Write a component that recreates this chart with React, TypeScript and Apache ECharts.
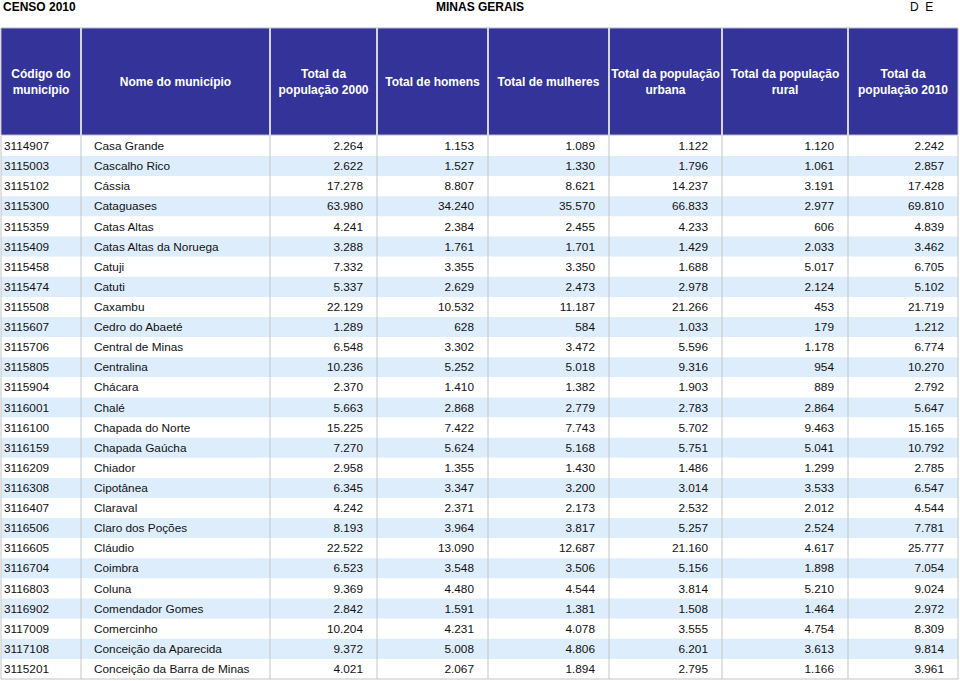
import React, { useEffect, useRef } from "react";
import * as echarts from "echarts";

const codes = ["3114907","3115003","3115102","3115300","3115359","3115409","3115458","3115474","3115508","3115607","3115706","3115805","3115904","3116001","3116100","3116159","3116209","3116308","3116407","3116506","3116605","3116704","3116803","3116902","3117009","3117108","3115201"];
const names = ["Casa Grande","Cascalho Rico","Cássia","Cataguases","Catas Altas","Catas Altas da Noruega","Catuji","Catuti","Caxambu","Cedro do Abaeté","Central de Minas","Centralina","Chácara","Chalé","Chapada do Norte","Chapada Gaúcha","Chiador","Cipotânea","Claraval","Claro dos Poções","Cláudio","Coimbra","Coluna","Comendador Gomes","Comercinho","Conceição da Aparecida","Conceição da Barra de Minas"];
const pop2000 = [2264,2622,17278,63980,4241,3288,7332,5337,22129,1289,6548,10236,2370,5663,15225,7270,2958,6345,4242,8193,22522,6523,9369,2842,10204,9372,4021];
const men = [1153,1527,8807,34240,2384,1761,3355,2629,10532,628,3302,5252,1410,2868,7422,5624,1355,3347,2371,3964,13090,3548,4480,1591,4231,5008,2067];
const women = [1089,1330,8621,35570,2455,1701,3350,2473,11187,584,3472,5018,1382,2779,7743,5168,1430,3200,2173,3817,12687,3506,4544,1381,4078,4806,1894];
const urban = [1122,1796,14237,66833,4233,1429,1688,2978,21266,1033,5596,9316,1903,2783,5702,5751,1486,3014,2532,5257,21160,5156,3814,1508,3555,6201,2795];
const rural = [1120,1061,3191,2977,606,2033,5017,2124,453,179,1178,954,889,2864,9463,5041,1299,3533,2012,2524,4617,1898,5210,1464,4754,3613,1166];
const pop2010 = [2242,2857,17428,69810,4839,3462,6705,5102,21719,1212,6774,10270,2792,5647,15165,10792,2785,6547,4544,7781,25777,7054,9024,2972,8309,9814,3961];

const headers = ["Código do\nmunicípio","Nome do município","Total da\npopulação 2000","Total de homens","Total de mulheres","Total da população\nurbana","Total da população\nrural","Total da\npopulação 2010"];
const titleLeft = "CENSO 2010";
const titleCenter = "MINAS GERAIS";
const titleRight = "D  E";

const colBounds = [1, 81, 270, 377, 488, 609, 722, 848, 958];
const FONT = "'Liberation Sans', Arial, Helvetica, sans-serif";

function fmt(n: number): string {
  return String(n).replace(/\B(?=(\d{3})+(?!\d))/g, ".");
}

export default function App() {
  const ref = useRef<HTMLDivElement>(null);
  useEffect(() => {
    if (!ref.current) return;
    const chart = echarts.init(ref.current, null, { renderer: "svg" });
    const numCols = [pop2000, men, women, urban, rural, pop2010];

    const headerTop = 28;
    const headerBottom = 135;
    const graphics: any[] = [
      { type: "text", style: { text: titleLeft, x: 3, y: 7, verticalAlign: "middle", font: `bold 12px ${FONT}`, fill: "#000" } },
      { type: "text", style: { text: titleCenter, x: 480, y: 7, align: "center", verticalAlign: "middle", font: `bold 12px ${FONT}`, fill: "#000" } },
      { type: "text", style: { text: titleRight, x: 910, y: 7, verticalAlign: "middle", font: `12px ${FONT}`, fill: "#000" } },
      { type: "rect", shape: { x: colBounds[0], y: headerTop, width: colBounds[8] - colBounds[0], height: headerBottom - headerTop }, style: { fill: "#333399", stroke: "#b8b8c8", lineWidth: 1 } },
    ];
    for (let k = 1; k < colBounds.length - 1; k++) {
      graphics.push({ type: "line", shape: { x1: colBounds[k], y1: headerTop, x2: colBounds[k], y2: headerBottom }, style: { stroke: "#d4d4e0", lineWidth: 2 } });
    }
    headers.forEach((h, k) => {
      graphics.push({
        type: "text",
        style: {
          text: h,
          x: (colBounds[k] + colBounds[k + 1]) / 2,
          y: 82,
          align: "center",
          verticalAlign: "middle",
          font: `bold 12px ${FONT}`,
          lineHeight: 16,
          fill: "#ffffff",
        },
      });
    });

    const option: any = {
      animation: false,
      grid: { left: 0, right: 0, top: 136, bottom: 2 },
      xAxis: { type: "value", min: 0, max: 960, show: false },
      yAxis: { type: "category", data: codes, inverse: true, show: false },
      graphic: graphics,
      series: [
        {
          type: "custom",
          data: codes.map((_, i) => [0, i]),
          encode: { x: 0, y: 1 },
          renderItem: (params: any, api: any) => {
            const idx = api.value(1) as number;
            const c = api.coord([0, idx]);
            const h = api.size([0, 1])[1];
            const yTop = c[1] - h / 2;
            const yMid = c[1];
            const xs = colBounds.map((b) => api.coord([b, idx])[0]);
            const bodyFont = `11.8px ${FONT}`;
            const children: any[] = [
              { type: "rect", shape: { x: xs[0], y: yTop, width: xs[8] - xs[0], height: h }, style: { fill: idx % 2 === 1 ? "#deedfc" : "#ffffff" } },
              { type: "text", style: { text: codes[idx], x: xs[0] + 3, y: yMid, verticalAlign: "middle", font: bodyFont, fill: "#111" } },
              { type: "text", style: { text: names[idx], x: xs[1] + 13, y: yMid, verticalAlign: "middle", font: bodyFont, fill: "#111" } },
            ];
            numCols.forEach((arr, k) => {
              children.push({ type: "text", style: { text: fmt(arr[idx]), x: xs[k + 3] - 14, y: yMid, align: "right", verticalAlign: "middle", font: bodyFont, fill: "#111" } });
            });
            for (let k = 0; k < xs.length; k++) {
              children.push({ type: "line", shape: { x1: xs[k], y1: yTop, x2: xs[k], y2: yTop + h }, style: { stroke: "#c4c4c4", lineWidth: 1 } });
            }
            if (idx === codes.length - 1) {
              children.push({ type: "line", shape: { x1: xs[0], y1: yTop + h, x2: xs[8], y2: yTop + h }, style: { stroke: "#c4c4c4", lineWidth: 1 } });
            }
            return { type: "group", children };
          },
        },
      ],
    };
    chart.setOption(option);
    return () => chart.dispose();
  }, []);
  return <div ref={ref} style={{ position: "absolute", left: 0, top: 0, width: 960, height: 681 }} />;
}
